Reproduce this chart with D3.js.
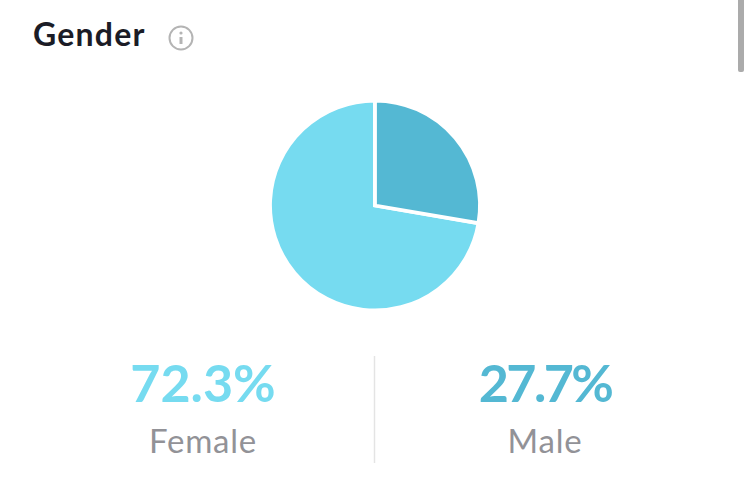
<!DOCTYPE html>
<html>
<head>
<meta charset="utf-8">
<script src="https://cdn.jsdelivr.net/npm/d3@7"></script>
<style>
  html, body { margin: 0; padding: 0; background: #fff; overflow: hidden; }
  text { font-family: Lato, "Open Sans", sans-serif; }
</style>
</head>
<body>
<div id="chart"></div>
<script>
(function () {

  // Data
  const genders = ["Female", "Male"]
  const shares = [72.3, 27.7]
  const colors = ["#76dbf0", "#54b8d3"]

  const width = 750
  const height = 477

  const svg = d3.select("#chart").append("svg")
    .attr("width", width)
    .attr("height", height)

  // Title and info icon
  svg.append("text")
    .attr("x", 33)
    .attr("y", 46)
    .attr("font-size", 32)
    .attr("font-weight", 700)
    .attr("letter-spacing", 1.2)
    .attr("fill", "#1b1c26")
    .text("Gender")

  const info = svg.append("g").attr("transform", "translate(181,38)")
  info.append("circle")
    .attr("r", 11.5)
    .attr("fill", "none")
    .attr("stroke", "#b4b4b4")
    .attr("stroke-width", 2)
  info.append("circle")
    .attr("cy", -5)
    .attr("r", 1.6)
    .attr("fill", "#b4b4b4")
  info.append("line")
    .attr("y1", -1)
    .attr("y2", 6)
    .attr("stroke", "#b4b4b4")
    .attr("stroke-width", 3)

  // Pie, male slice starts at 12 o'clock going clockwise
  const pie = d3.pie()
    .value(i => shares[i])
    .sort(null)
    .startAngle(-2 * Math.PI * shares[0] / 100)
    .endAngle(2 * Math.PI * shares[1] / 100)

  const arc = d3.arc().innerRadius(0).outerRadius(105)

  svg.append("g")
    .attr("transform", "translate(375,205.5)")
    .selectAll("path")
    .data(pie(d3.range(genders.length)))
    .join("path")
    .attr("d", arc)
    .attr("fill", d => colors[d.data])
    .attr("stroke", "#fff")
    .attr("stroke-width", 3.8)

  // Value labels below the pie
  const xLabel = d3.scalePoint()
    .domain(genders)
    .range([203, 545])

  svg.selectAll(".value")
    .data(genders)
    .join("text")
    .attr("class", "value")
    .attr("x", d => xLabel(d))
    .attr("y", 402)
    .attr("text-anchor", "middle")
    .attr("font-size", 52)
    .attr("font-weight", 700)
    .attr("letter-spacing", (d, i) => i === 1 ? -2.6 : 0)
    .attr("fill", (d, i) => colors[i])
    .text((d, i) => shares[i].toFixed(1) + "%")

  svg.selectAll(".name")
    .data(genders)
    .join("text")
    .attr("class", "name")
    .attr("x", d => xLabel(d))
    .attr("y", 453)
    .attr("text-anchor", "middle")
    .attr("font-size", 33)
    .attr("letter-spacing", 0.8)
    .attr("fill", "#929297")
    .text(d => d)

  // Divider
  svg.append("line")
    .attr("x1", 374.5)
    .attr("x2", 374.5)
    .attr("y1", 356)
    .attr("y2", 463)
    .attr("stroke", "#e4e4e4")
    .attr("stroke-width", 1.5)

  // Scrollbar thumb
  svg.append("rect")
    .attr("x", 738)
    .attr("y", -6)
    .attr("width", 6)
    .attr("height", 78)
    .attr("rx", 2)
    .attr("fill", "#ababab")

})();
</script>
</body>
</html>
